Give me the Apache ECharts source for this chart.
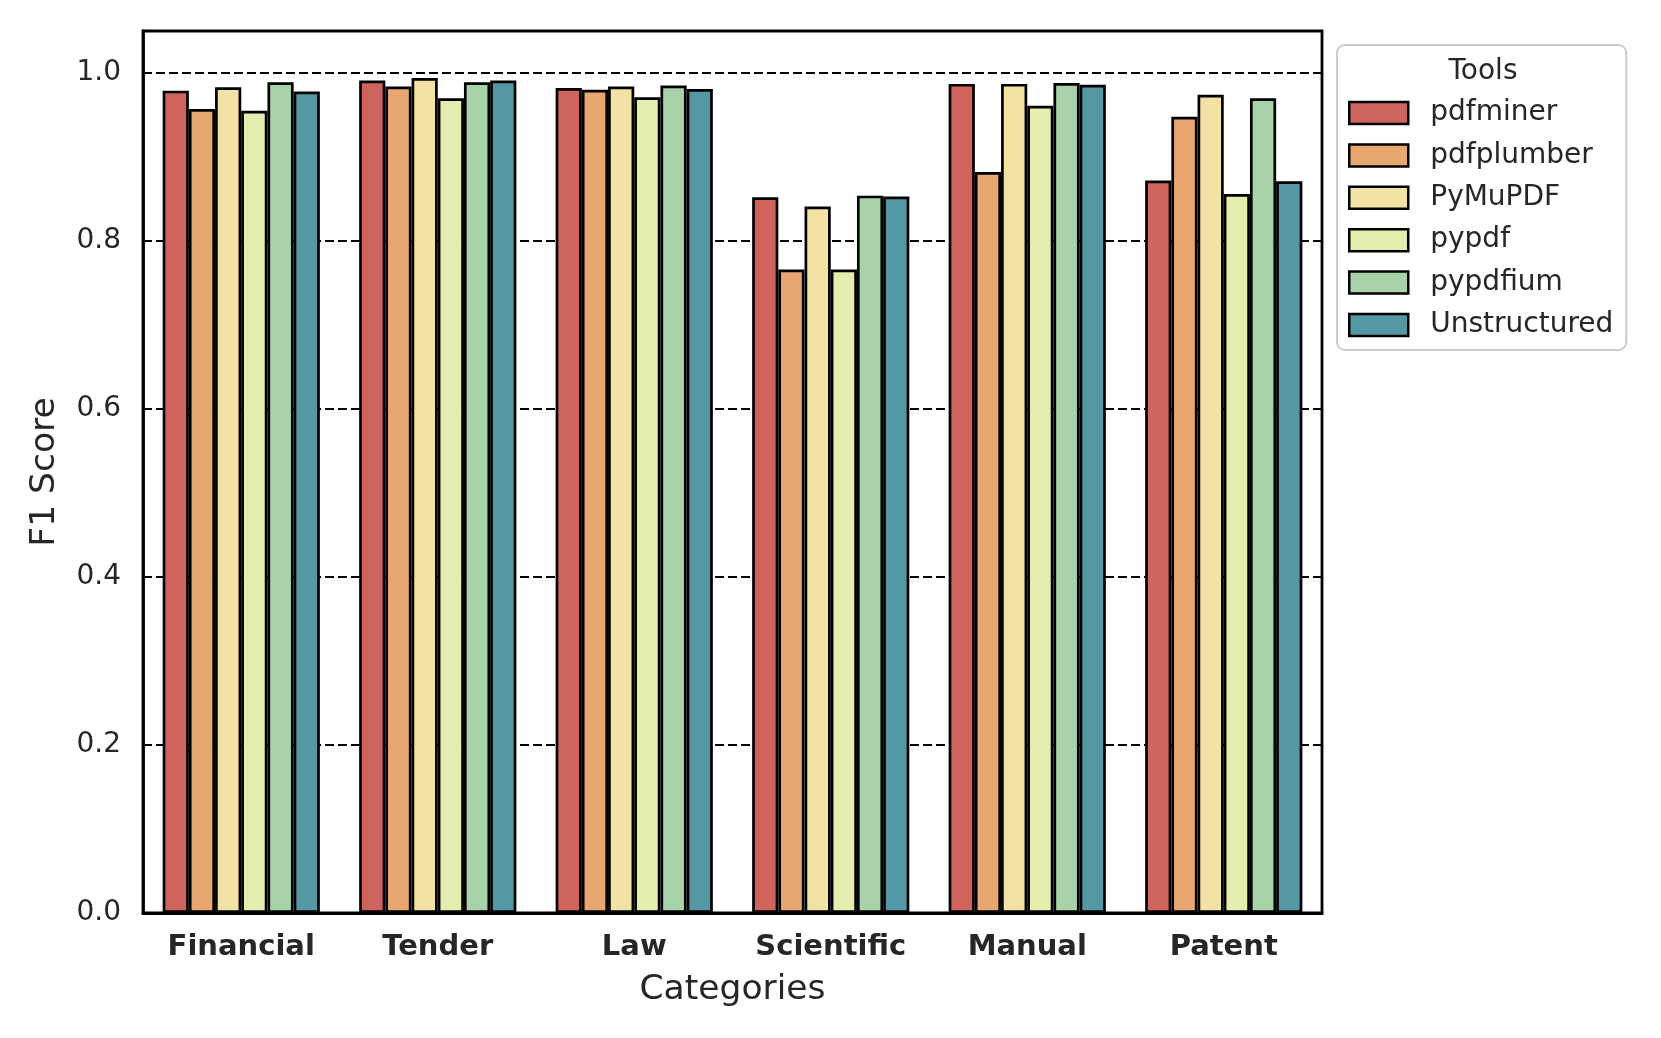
<!DOCTYPE html>
<html>
<head>
<meta charset="utf-8">
<script src="https://cdn.jsdelivr.net/npm/echarts@6/dist/echarts.min.js"></script>
<style>
html,body{margin:0;padding:0;background:#fff;}
#chart{width:1661px;height:1038px;}
</style>
</head>
<body>
<div id="chart"></div>
<script>
const categories = ['Financial', 'Tender', 'Law', 'Scientific', 'Manual', 'Patent'];
const tools = ['pdfminer', 'pdfplumber', 'PyMuPDF', 'pypdf', 'pypdfium', 'Unstructured'];
const pdfminer     = [0.979, 0.991, 0.982, 0.852, 0.987, 0.872];
const pdfplumber   = [0.957, 0.984, 0.980, 0.766, 0.882, 0.948];
const pymupdf      = [0.983, 0.994, 0.984, 0.841, 0.987, 0.974];
const pypdf        = [0.955, 0.970, 0.971, 0.766, 0.961, 0.856];
const pypdfium     = [0.989, 0.989, 0.985, 0.854, 0.988, 0.970];
const unstructured = [0.978, 0.991, 0.981, 0.853, 0.986, 0.871];
const yTicks = [0.0, 0.2, 0.4, 0.6, 0.8, 1.0];

const seriesValues = [pdfminer, pdfplumber, pymupdf, pypdf, pypdfium, unstructured];
const colors = ['#cf635d', '#e8a770', '#f2e2a6', '#e5edae', '#a8d2aa', '#5598a5'];
const FONT = 'DejaVu Sans';
const TXT = '#262626';

const chart = echarts.init(document.getElementById('chart'), null, {renderer: 'canvas'});
const option = {
  animation: false,
  backgroundColor: '#ffffff',
  grid: {
    left: 143, right: 339, top: 31, bottom: 125,
    show: true, borderColor: '#000', borderWidth: 2.8, backgroundColor: 'transparent'
  },
  legend: {
    orient: 'vertical',
    left: 1337, top: 45,
    padding: [53, 13, 10, 11],
    itemWidth: 59, itemHeight: 22, itemGap: 12.4,
    backgroundColor: '#ffffff',
    borderColor: '#cccccc', borderWidth: 2, borderRadius: 8,
    icon: 'rect',
    itemStyle: {borderColor: '#000', borderWidth: 2.5},
    textStyle: {fontFamily: FONT, fontSize: 28, color: TXT, lineHeight: 30, padding: [0, 0, 0, 17]},
    data: tools
  },
  graphic: [{
    type: 'text', x: 1483, y: 72, z: 100,
    style: {text: 'Tools', font: '28px "DejaVu Sans"', fill: TXT, align: 'center', verticalAlign: 'middle'}
  }],
  xAxis: {
    type: 'category',
    data: categories,
    name: 'Categories',
    nameLocation: 'middle',
    nameGap: 60,
    nameTextStyle: {fontFamily: FONT, fontSize: 34.5, color: TXT},
    axisLine: {show: true, lineStyle: {color: '#000', width: 2.8}},
    axisTick: {show: false},
    axisLabel: {fontFamily: FONT, fontSize: 29, fontWeight: 'bold', color: TXT, margin: 20},
    splitLine: {show: false}
  },
  yAxis: {
    type: 'value',
    min: 0, max: 1.05, interval: 0.2,
    name: 'F1 Score',
    nameLocation: 'middle',
    nameGap: 80,
    nameTextStyle: {fontFamily: FONT, fontSize: 34.5, color: TXT},
    axisLine: {show: true, lineStyle: {color: '#000', width: 2.8}},
    axisTick: {show: false},
    axisLabel: {
      fontFamily: FONT, fontSize: 28, color: TXT, margin: 22,
      formatter: function (v) {
        for (const t of yTicks) { if (Math.abs(v - t) < 1e-6) return t.toFixed(1); }
        return '';
      }
    },
    splitLine: {show: true, lineStyle: {color: '#000', width: 2, type: [9, 4]}}
  },
  series: tools.map((name, i) => ({
    name: name,
    type: 'bar',
    data: seriesValues[i],
    barGap: '0%',
    barCategoryGap: '20%',
    itemStyle: {color: colors[i], borderColor: '#000', borderWidth: 2.7}
  }))
};
chart.setOption(option);
</script>
</body>
</html>
